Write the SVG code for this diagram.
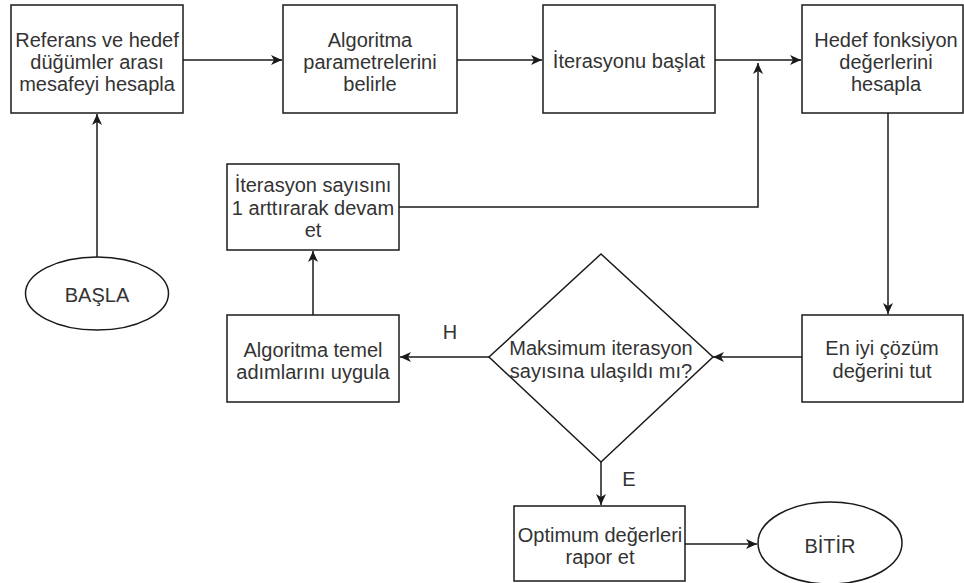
<svg xmlns="http://www.w3.org/2000/svg" width="964" height="583" viewBox="0 0 964 583">
  <style>
    .box { fill: #ffffff; stroke: #1a1a1a; stroke-width: 1.5; }
    .lbl { font-family: "Liberation Sans", Arial, sans-serif; font-size: 20px; fill: #333333; text-anchor: middle; }
    .edge { fill: none; stroke: #1a1a1a; stroke-width: 1.5; marker-end: url(#arr); }
  </style>
  <defs>
    <marker id="arr" markerUnits="userSpaceOnUse" markerWidth="13" markerHeight="11" refX="11" refY="5" orient="auto">
      <path d="M0,0 L11,5 L0,10 L3,5 z" fill="#1a1a1a"/>
    </marker>
  </defs>
  <rect width="964" height="583" fill="#ffffff"/>

  <g id="connectors">
    <path class="edge" d="M183,60 L282,60"/>
    <path class="edge" d="M457,60 L542,60"/>
    <path class="edge" d="M715,60 L801,60"/>
    <path class="edge" d="M399,207 L758,207 L758,63"/>
    <path class="edge" d="M97,257 L97,114"/>
    <path class="edge" d="M888,113 L888,314"/>
    <path class="edge" d="M802,357 L713,357"/>
    <path class="edge" d="M489,357 L400,357"/>
    <path class="edge" d="M313,315 L313,251"/>
    <path class="edge" d="M601,462 L601,505"/>
    <path class="edge" d="M685,544 L757,544"/>
  </g>

  <g id="n1">
    <rect class="box" x="11" y="5" width="172" height="108"/>
    <text class="lbl" x="97" y="47">Referans ve hedef</text>
    <text class="lbl" x="97" y="69">düğümler arası</text>
    <text class="lbl" x="97" y="91">mesafeyi hesapla</text>
  </g>
  <g id="n2">
    <rect class="box" x="283" y="5" width="174" height="108"/>
    <text class="lbl" x="370" y="47">Algoritma</text>
    <text class="lbl" x="370" y="69">parametrelerini</text>
    <text class="lbl" x="370" y="91">belirle</text>
  </g>
  <g id="n3">
    <rect class="box" x="543" y="5" width="172" height="108"/>
    <text class="lbl" x="629" y="68">İterasyonu başlat</text>
  </g>
  <g id="n4">
    <rect class="box" x="802" y="5" width="161" height="108"/>
    <text class="lbl" x="886" y="47">Hedef fonksiyon</text>
    <text class="lbl" x="886" y="69">değerlerini</text>
    <text class="lbl" x="886" y="91">hesapla</text>
  </g>
  <g id="n5">
    <rect class="box" x="227" y="164" width="172" height="86"/>
    <text class="lbl" x="313" y="192">İterasyon sayısını</text>
    <text class="lbl" x="313" y="215">1 arttırarak devam</text>
    <text class="lbl" x="313" y="237">et</text>
  </g>
  <g id="n6">
    <rect class="box" x="227" y="315" width="172" height="87"/>
    <text class="lbl" x="313" y="357">Algoritma temel</text>
    <text class="lbl" x="313" y="379">adımlarını uygula</text>
  </g>
  <g id="n7">
    <rect class="box" x="802" y="315" width="161" height="87"/>
    <text class="lbl" x="882" y="355">En iyi çözüm</text>
    <text class="lbl" x="882" y="378">değerini tut</text>
  </g>
  <g id="n8">
    <polygon class="box" points="601,254 713,357 601,462 489,357"/>
    <text class="lbl" x="601" y="355">Maksimum iterasyon</text>
    <text class="lbl" x="601" y="378">sayısına ulaşıldı mı?</text>
  </g>
  <g id="n9">
    <rect class="box" x="514" y="506" width="171" height="75"/>
    <text class="lbl" x="600" y="542">Optimum değerleri</text>
    <text class="lbl" x="600" y="564">rapor et</text>
  </g>
  <g id="start">
    <ellipse class="box" cx="97" cy="293.5" rx="71.5" ry="36.5"/>
    <text class="lbl" x="97" y="302">BAŞLA</text>
  </g>
  <g id="end">
    <ellipse class="box" cx="830" cy="543" rx="72" ry="41"/>
    <text class="lbl" x="830" y="553">BİTİR</text>
  </g>
  <g id="edge-labels">
    <text class="lbl" x="450" y="339">H</text>
    <text class="lbl" x="629" y="486">E</text>
  </g>
</svg>
